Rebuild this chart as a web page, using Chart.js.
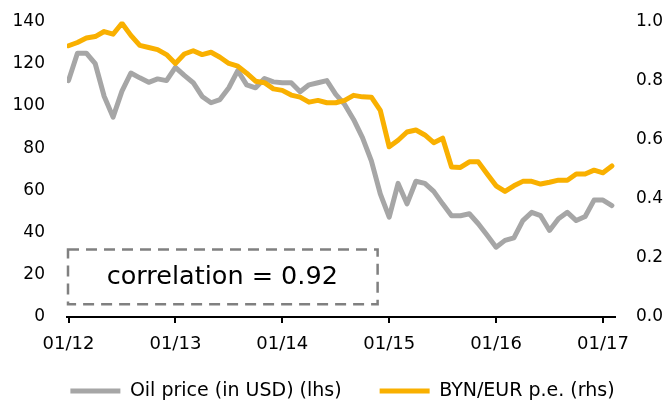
<!DOCTYPE html>
<html lang="en">
<head>
    <meta charset="UTF-8">
    <title>Oil price vs BYN/EUR</title>
    <script src="https://cdn.jsdelivr.net/npm/chart.js"></script>
    <style>
        html, body { margin: 0; padding: 0; background: #fff; overflow: hidden; }
        #wrap { position: relative; width: 685px; height: 424px; }
    </style>
</head>
<body>
    <div id="wrap"><canvas id="oilChart"></canvas></div>

    <script>
        // monthly observations, Jan 2012 .. Feb 2017
        const oilPrice = [112, 125, 125, 120, 104.6, 94.7, 107, 115.6, 113.3, 111.2, 112.8, 112,
            118.3, 114.5, 111, 104.5, 101.5, 103, 108.6, 116.7, 110, 108.6, 113, 111.4,
            111, 111, 106.7, 110, 111, 112, 105.5, 100.7, 93.6, 85, 74, 58.3,
            47.3, 63.3, 53.6, 64.3, 63.3, 59.5, 53.6, 48, 48, 48.9, 44.2, 38.7,
            33.1, 36.3, 37.5, 45.7, 49.6, 48, 41, 46.5, 49.6, 45.7, 47.6, 55.4,
            55.4, 52.8];
        const bynEur = [0.918, 0.929, 0.944, 0.949, 0.966, 0.957, 0.994, 0.953, 0.919, 0.912, 0.905, 0.888,
            0.858, 0.890, 0.901, 0.888, 0.896, 0.879, 0.858, 0.849, 0.825, 0.798, 0.793, 0.772,
            0.767, 0.751, 0.744, 0.727, 0.733, 0.725, 0.725, 0.733, 0.750, 0.745, 0.744, 0.699,
            0.576, 0.598, 0.626, 0.633, 0.616, 0.590, 0.605, 0.508, 0.506, 0.525, 0.525, 0.484,
            0.444, 0.425, 0.444, 0.459, 0.459, 0.450, 0.456, 0.463, 0.463, 0.484, 0.484, 0.497,
            0.488, 0.511];
        const xTickLabels = ['01/12', '01/13', '01/14', '01/15', '01/16', '01/17'];
        const xTickMonths = [0, 12, 24, 36, 48, 60];
        const seriesNames = ['Oil price (in USD) (lhs)', 'BYN/EUR p.e. (rhs)'];
        const correlationText = 'correlation = 0.92';

        const GRAY = '#a6a6a6';
        const ORANGE = '#f9b000';
        const FONT = "'DejaVu Sans', sans-serif";

        const toPoints = arr => arr.map((v, i) => ({ x: i, y: v }));

        // dashed box with the correlation note, placed in data units
        const corrBox = {
            id: 'corrBox',
            afterDatasetsDraw(chart) {
                const { ctx, chartArea, scales } = chart;
                const x1 = chartArea.left;
                const x2 = scales.x.getPixelForValue(34.7);
                const y1 = scales.y.getPixelForValue(32);
                const y2 = scales.y.getPixelForValue(6);
                ctx.save();
                ctx.strokeStyle = '#808080';
                ctx.lineWidth = 2.5;
                ctx.setLineDash([11, 7]);
                ctx.strokeRect(x1 + 1, y1, x2 - x1 - 1, y2 - y1);
                ctx.setLineDash([]);
                ctx.fillStyle = '#000';
                ctx.font = `25.5px ${FONT}`;
                ctx.textAlign = 'center';
                ctx.textBaseline = 'middle';
                ctx.fillText(correlationText, (x1 + x2) / 2, (y1 + y2) / 2);
                ctx.restore();
            }
        };

        // the legend sits a little closer to the axis labels than the box layout allows
        const legendLift = {
            id: 'legendLift',
            afterLayout(chart) {
                if (chart.legend) {
                    chart.legend.top -= 13.5;
                    chart.legend.bottom -= 13.5;
                }
            }
        };

        // y axes: no extra space reserved above/below the plot
        const noPad = scale => {
            scale.paddingTop = 0;
            scale.paddingBottom = 0;
        };

        const ctx = document.getElementById('oilChart').getContext('2d');
        new Chart(ctx, {
            type: 'line',
            data: {
                datasets: [
                    {
                        label: seriesNames[1],
                        data: toPoints(bynEur),
                        yAxisID: 'y1',
                        borderColor: ORANGE,
                        backgroundColor: ORANGE,
                        borderWidth: 5,
                        pointRadius: 0,
                        borderJoinStyle: 'round',
                        borderCapStyle: 'round'
                    },
                    {
                        label: seriesNames[0],
                        data: toPoints(oilPrice),
                        yAxisID: 'y',
                        borderColor: GRAY,
                        backgroundColor: GRAY,
                        borderWidth: 5,
                        pointRadius: 0,
                        borderJoinStyle: 'round',
                        borderCapStyle: 'round'
                    }
                ]
            },
            options: {
                responsive: true,
                maintainAspectRatio: false,
                animation: false,
                layout: { padding: { top: 21.5, left: 0, right: 0, bottom: 0 } },
                plugins: {
                    tooltip: { enabled: false },
                    legend: {
                        position: 'bottom',
                        reverse: true,
                        labels: {
                            boxWidth: 50,
                            boxHeight: 5,
                            padding: 38,
                            color: '#000',
                            font: { family: FONT, size: 19 },
                            generateLabels(chart) {
                                const items = Chart.defaults.plugins.legend.labels.generateLabels(chart);
                                items.forEach(it => { it.lineWidth = 0; });
                                return items;
                            }
                        }
                    }
                },
                scales: {
                    x: {
                        type: 'linear',
                        min: -0.17,
                        max: 61.35,
                        afterBuildTicks(scale) {
                            scale.ticks = xTickMonths.map(v => ({ value: v }));
                        },
                        afterFit(scale) { scale.height = 40; },
                        grid: {
                            drawOnChartArea: false,
                            drawTicks: true,
                            tickLength: 6,
                            color: '#000',
                            lineWidth: 2
                        },
                        border: { display: true, color: '#000', width: 2 },
                        ticks: {
                            padding: 11,
                            color: '#000',
                            font: { family: FONT, size: 18 },
                            maxRotation: 0,
                            autoSkip: false,
                            callback: v => xTickLabels[xTickMonths.indexOf(v)]
                        }
                    },
                    y: {
                        position: 'left',
                        min: 0,
                        max: 140,
                        afterFit(scale) { scale.width = 67; noPad(scale); },
                        grid: { display: false, drawTicks: false },
                        border: { display: false },
                        ticks: {
                            stepSize: 20,
                            padding: 22,
                            color: '#000',
                            font: { family: FONT, size: 17 }
                        }
                    },
                    y1: {
                        position: 'right',
                        min: 0,
                        max: 1,
                        afterFit(scale) { scale.width = 70; noPad(scale); },
                        grid: { display: false, drawTicks: false },
                        border: { display: false },
                        ticks: {
                            stepSize: 0.2,
                            padding: 21,
                            color: '#000',
                            font: { family: FONT, size: 17 },
                            callback: v => v.toFixed(1)
                        }
                    }
                }
            },
            plugins: [corrBox, legendLift]
        });
    </script>
</body>
</html>
